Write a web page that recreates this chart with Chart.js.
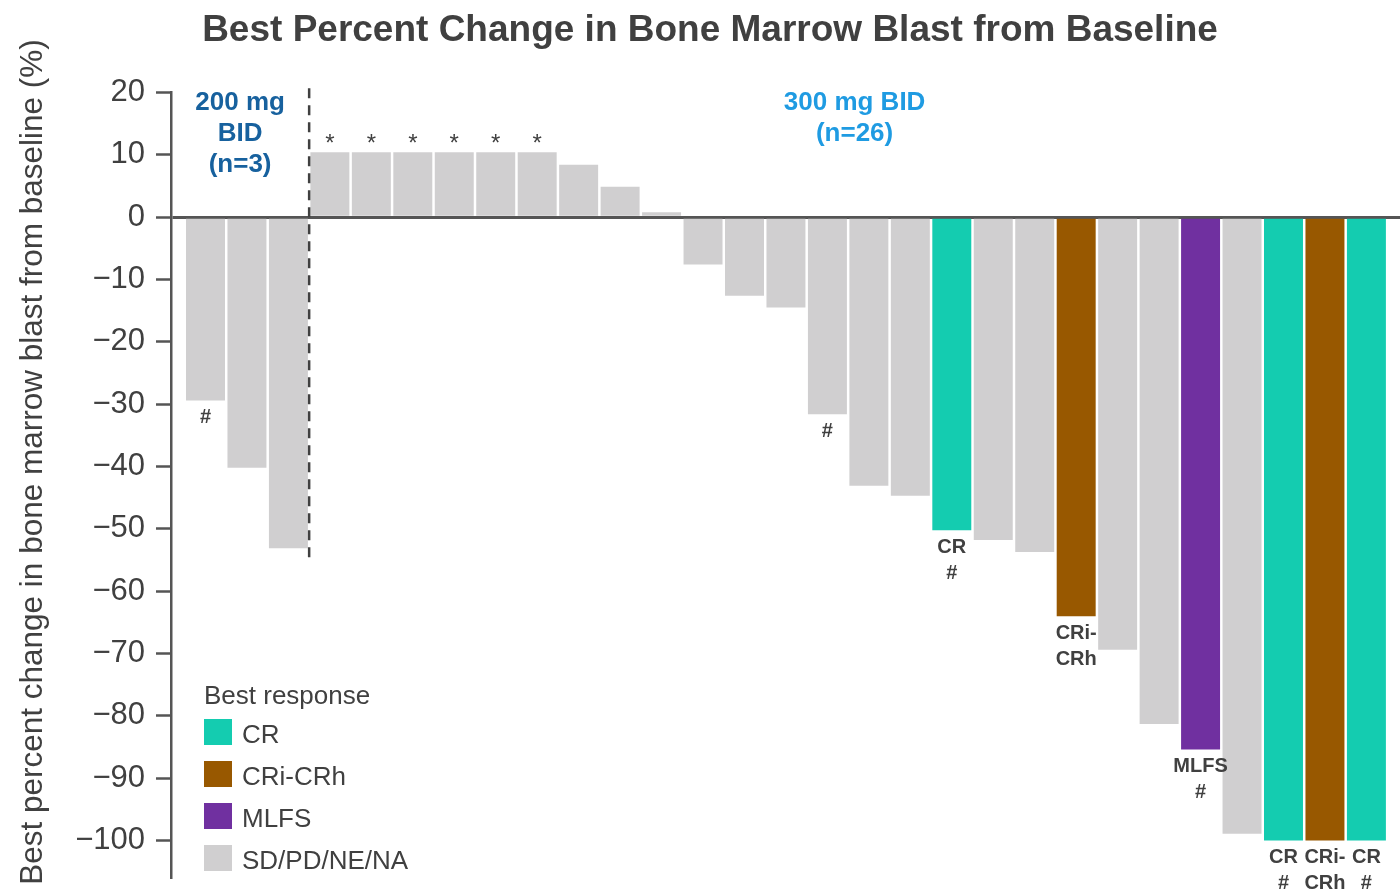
<!DOCTYPE html>
<html>
<head>
<meta charset="utf-8">
<title>Best Percent Change in Bone Marrow Blast from Baseline</title>
<script src="https://cdn.jsdelivr.net/npm/chart.js@4.4.1/dist/chart.umd.min.js"></script>
<style>
  html, body { margin: 0; padding: 0; background: #fff; }
  canvas { display: block; }
</style>
</head>
<body>
<canvas id="blastChart" width="1400" height="891"></canvas>
<script>
// Best % change in marrow blasts, one bar per patient (200 mg group first, then 300 mg)
const patientChange = [
  -29.4, -40.2, -53.1,
  10.4, 10.4, 10.4, 10.4, 10.4, 10.4, 8.4, 4.9, 0.8,
  -7.6, -12.6, -14.5, -31.6, -43.1, -44.7, -50.2, -51.8, -53.7,
  -64.0, -69.4, -81.3, -85.4, -98.9, -100, -100, -100
];
const bestResponse = [
  'SD/PD/NE/NA', 'SD/PD/NE/NA', 'SD/PD/NE/NA',
  'SD/PD/NE/NA', 'SD/PD/NE/NA', 'SD/PD/NE/NA', 'SD/PD/NE/NA', 'SD/PD/NE/NA', 'SD/PD/NE/NA',
  'SD/PD/NE/NA', 'SD/PD/NE/NA', 'SD/PD/NE/NA',
  'SD/PD/NE/NA', 'SD/PD/NE/NA', 'SD/PD/NE/NA', 'SD/PD/NE/NA', 'SD/PD/NE/NA', 'SD/PD/NE/NA',
  'CR', 'SD/PD/NE/NA', 'SD/PD/NE/NA',
  'CRi-CRh', 'SD/PD/NE/NA', 'SD/PD/NE/NA', 'MLFS', 'SD/PD/NE/NA',
  'CR', 'CRi-CRh', 'CR'
];
// Text printed at the end of each bar ('' = nothing)
const barNotes = [
  '#', '', '',
  '*', '*', '*', '*', '*', '*', '', '', '',
  '', '', '', '#', '', '',
  'CR\n#', '', '',
  'CRi-\nCRh', '', '', 'MLFS\n#', '',
  'CR\n#', 'CRi-\nCRh', 'CR\n#'
];
const responseTypes = ['CR', 'CRi-CRh', 'MLFS', 'SD/PD/NE/NA'];
const responseColors = ['#14ccb0', '#985800', '#7030a0', '#d0cfd0'];
const doseGroups = ['200 mg\nBID\n(n=3)', '300 mg BID\n(n=26)'];
const doseColors = ['#17619e', '#1f9be2'];
const groupSizes = [3, 26];
const yTicks = [20, 10, 0, -10, -20, -30, -40, -50, -60, -70, -80, -90, -100];

const FONT = "'Liberation Sans', Arial, Helvetica, sans-serif";
const TEXT = '#404040';
const AXIS = '#555555';

Chart.defaults.font.family = FONT;

function minusLabel(v) {
  return v < 0 ? '\u2212' + Math.abs(v) : String(v);
}

// Title, y-axis title and legend
const headerPlugin = {
  id: 'header',
  afterDraw(chart) {
    const { ctx } = chart;
    ctx.save();
    ctx.fillStyle = TEXT;
    ctx.textAlign = 'center';
    ctx.textBaseline = 'alphabetic';
    ctx.font = 'bold 37px ' + FONT;
    ctx.fillText('Best Percent Change in Bone Marrow Blast from Baseline', 710, 41);

    ctx.save();
    ctx.translate(42, 462);
    ctx.rotate(-Math.PI / 2);
    ctx.font = '31.5px ' + FONT;
    ctx.fillText('Best percent change in bone marrow blast from baseline (%)', 0, 0);
    ctx.restore();

    // legend
    ctx.textAlign = 'left';
    ctx.font = '26px ' + FONT;
    ctx.fillText('Best response', 204, 704);
    responseTypes.forEach((name, i) => {
      const top = 719 + i * 42;
      ctx.fillStyle = responseColors[i];
      ctx.fillRect(204, top, 28, 26);
      ctx.fillStyle = TEXT;
      ctx.fillText(name, 242, top + 24);
    });
    ctx.restore();
  }
};

// Dashed divider between dose groups plus group captions
const doseGroupPlugin = {
  id: 'doseGroups',
  afterDatasetsDraw(chart) {
    const { ctx, chartArea, scales: { x, y } } = chart;
    const sepX = x.getPixelForValue(groupSizes[0] + 0.5);
    ctx.save();
    ctx.strokeStyle = TEXT;
    ctx.lineWidth = 2.5;
    ctx.setLineDash([10, 7]);
    ctx.beginPath();
    ctx.moveTo(sepX, y.getPixelForValue(20.7));
    ctx.lineTo(sepX, y.getPixelForValue(-55.5));
    ctx.stroke();
    ctx.setLineDash([]);

    const spans = [[chartArea.left, sepX], [sepX, chartArea.right]];
    ctx.font = 'bold 26px ' + FONT;
    ctx.textAlign = 'center';
    ctx.textBaseline = 'middle';
    doseGroups.forEach((label, g) => {
      const cx = (spans[g][0] + spans[g][1]) / 2;
      ctx.fillStyle = doseColors[g];
      label.split('\n').forEach((line, k) => {
        ctx.fillText(line, cx, chartArea.top + 10 + k * 31);
      });
    });
    ctx.restore();
  }
};

// Response / footnote marks at the end of each bar
const barNotesPlugin = {
  id: 'barNotes',
  afterDatasetsDraw(chart) {
    const { ctx } = chart;
    const meta = chart.getDatasetMeta(0);
    ctx.save();
    ctx.fillStyle = TEXT;
    ctx.textAlign = 'center';
    meta.data.forEach((bar, i) => {
      const note = barNotes[i];
      if (!note) return;
      if (patientChange[i] > 0) {
        ctx.font = '24px ' + FONT;
        ctx.textBaseline = 'alphabetic';
        ctx.fillText(note, bar.x, bar.y - 1);
        return;
      }
      ctx.font = 'bold 20px ' + FONT;
      ctx.textBaseline = 'middle';
      note.split('\n').forEach((line, k) => {
        ctx.fillText(line, bar.x, bar.y + 17 + k * 26);
      });
    });
    ctx.restore();
  }
};

const chart = new Chart(document.getElementById('blastChart'), {
  type: 'bar',
  data: {
    datasets: [{
      data: patientChange.map((v, i) => ({ x: i + 1, y: v })),
      backgroundColor: bestResponse.map(r => responseColors[responseTypes.indexOf(r)]),
      borderWidth: 0,
      barPercentage: 0.94,
      categoryPercentage: 1
    }]
  },
  options: {
    responsive: false,
    animation: false,
    devicePixelRatio: 1,
    layout: { padding: { top: 92.5, bottom: 13, left: 0, right: 0 } },
    plugins: {
      legend: { display: false },
      tooltip: { enabled: false },
      title: { display: false }
    },
    scales: {
      x: {
        type: 'linear',
        min: 0.168,
        max: 29.81,
        offset: false,
        display: false
      },
      y: {
        min: -106,
        max: 20,
        afterBuildTicks: scale => {
          scale.ticks = yTicks.map(v => ({ value: v }));
        },
        afterFit: scale => {
          scale.width = 171;
          scale.paddingTop = 0;
          scale.paddingBottom = 0;
        },
        border: { display: true, color: AXIS, width: 2.5 },
        grid: {
          drawOnChartArea: true,
          drawTicks: true,
          tickLength: 15,
          tickColor: AXIS,
          tickWidth: 2.5,
          color: ctx => (ctx.tick && ctx.tick.value === 0 ? AXIS : 'rgba(0,0,0,0)'),
          lineWidth: ctx => (ctx.tick && ctx.tick.value === 0 ? 3 : 1)
        },
        ticks: {
          color: TEXT,
          padding: 11,
          font: { size: 31 },
          callback: minusLabel
        }
      }
    }
  },
  plugins: [headerPlugin, doseGroupPlugin, barNotesPlugin]
});
</script>
</body>
</html>
